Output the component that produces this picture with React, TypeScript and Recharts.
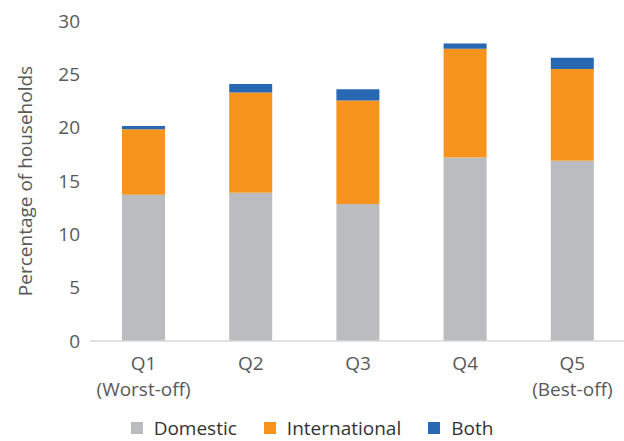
import React from 'react';
import { BarChart, Bar, XAxis, YAxis, Legend } from 'recharts';

const categories = ['Q1', 'Q2', 'Q3', 'Q4', 'Q5'];
const subLabels = ['(Worst-off)', '', '', '', '(Best-off)'];
const domestic = [13.7, 13.9, 12.85, 17.2, 16.9];
const international = [6.15, 9.4, 9.7, 10.2, 8.6];
const both = [0.3, 0.8, 1.05, 0.5, 1.05];
const yTicks = [0, 5, 10, 15, 20, 25, 30];

const seriesNames = ['Domestic', 'International', 'Both'];
const colors = ['#bbbcbf', '#f7941e', '#2868b3'];

const data = categories.map((c, i) => ({
  name: c,
  sub: subLabels[i],
  Domestic: domestic[i],
  International: international[i],
  Both: both[i],
}));

const FONT = '"Open Sans", "Noto Sans", sans-serif';
const TEXT = '#595959';
const FS = 19;

const XTick = (props: any) => {
  const { x, y, payload, index } = props;
  const sub = subLabels[index] ?? '';
  return (
    <text x={x} y={y} textAnchor="middle" fill={TEXT} fontSize={FS} fontFamily={FONT}>
      <tspan x={x} dy={29}>{payload.value}</tspan>
      {sub ? <tspan x={x} dy={26}>{sub}</tspan> : null}
    </text>
  );
};

const LegendContent = () => (
  <div
    style={{
      height: 32,
      boxSizing: 'border-box',
      paddingTop: 6,
      display: 'flex',
      justifyContent: 'center',
      alignItems: 'center',
      fontFamily: FONT,
      fontSize: FS,
      color: '#333',
    }}
  >
    {seriesNames.map((n, i) => (
      <div key={n} style={{ display: 'flex', alignItems: 'center', marginRight: i < 2 ? 27 : 0 }}>
        <span style={{ width: 12, height: 12, background: colors[i], display: 'inline-block', marginRight: 11 }} />
        <span>{n}</span>
      </div>
    ))}
  </div>
);

const YLabel = (props: any) => {
  const vb = props.viewBox || {};
  const cx = 25;
  const cy = (vb.y ?? 0) + (vb.height ?? 0) / 2;
  return (
    <text
      x={cx}
      y={cy}
      transform={`rotate(-90 ${cx} ${cy})`}
      textAnchor="middle"
      dominantBaseline="central"
      fill={TEXT}
      fontSize={FS}
      fontFamily={FONT}
    >
      Percentage of households
    </text>
  );
};

export default function App() {
  return (
    <div style={{ position: 'absolute', left: 0, top: 0, width: 624, height: 441, overflow: 'hidden', background: '#fff' }}>
      <BarChart width={630} height={441} data={data} margin={{ top: 21, right: 4, left: 0, bottom: 0 }} barSize={43}>
        <XAxis
          dataKey="name"
          tickLine={false}
          axisLine={{ stroke: '#d9d9d9', strokeWidth: 1.5 }}
          tickSize={0}
          tickMargin={0}
          height={68}
          tick={<XTick />}
          interval={0}
        />
        <YAxis
          width={90}
          domain={[0, 30]}
          ticks={yTicks}
          axisLine={false}
          tickLine={false}
          tickSize={0}
          tickMargin={10}
          tick={{ fill: TEXT, fontSize: FS, fontFamily: FONT }}
          label={<YLabel />}
        />
        <Legend verticalAlign="bottom" content={<LegendContent />} wrapperStyle={{ left: 0, width: 624, bottom: 0 }} />
        <Bar dataKey="Domestic" stackId="a" fill={colors[0]} isAnimationActive={false} />
        <Bar dataKey="International" stackId="a" fill={colors[1]} isAnimationActive={false} />
        <Bar dataKey="Both" stackId="a" fill={colors[2]} isAnimationActive={false} />
      </BarChart>
    </div>
  );
}
